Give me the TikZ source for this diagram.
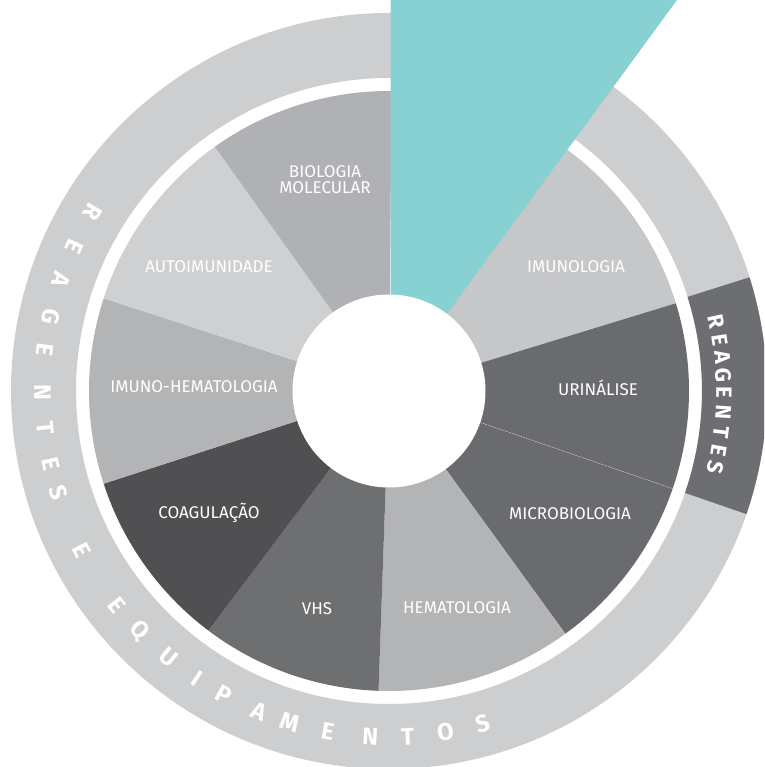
\documentclass[tikz,border=0pt]{standalone}
\usepackage{fontspec}
\setmainfont{Fira Sans}
\usetikzlibrary{positioning}

\definecolor{ringgray}{HTML}{CDCED0}
\definecolor{reagdark}{HTML}{6D6E71}
\definecolor{tealslice}{HTML}{88D1D3}
\definecolor{imunogray}{HTML}{C6C7C9}
\definecolor{darkslice}{HTML}{6A6B6F}
\definecolor{midslice}{HTML}{B3B4B6}
\definecolor{vhsgray}{HTML}{6E6F71}
\definecolor{coaggray}{HTML}{505052}
\definecolor{palegray}{HTML}{CFD0D2}
\definecolor{biogray}{HTML}{B0B1B4}

\begin{document}
\begin{tikzpicture}[x=1pt,y=1pt]

        % Setup the styles for the labels and the ring letters
        \tikzset{label style/.style={text=white,
                                     inner sep=0pt,
                                     align=center,
                                     text height=12pt,
                                     text depth=0pt,
                                     font=\fontsize{17}{15}\selectfont},
                 ring letter/.style={text=white,
                                     inner sep=0pt,
                                     font=\fontsize{24}{24}\selectfont\bfseries},
                 side letter/.style={ring letter,
                                     font=\fontsize{22}{22}\selectfont\bfseries}}

        \useasboundingbox (-389,-376) rectangle (375,391);
        \clip (-389,-376) rectangle (375,391);

        % Draw the outer ring
        \fill[ringgray, even odd rule] (0,0) circle[radius=378pt] (0,0) circle[radius=313pt];
        \fill[reagdark] (-19:313) arc[start angle=-19, end angle=17.5, radius=313pt]
            -- (17.5:378) arc[start angle=17.5, end angle=-19, radius=378pt] -- cycle;

        % Draw the slices
        \foreach \s/\e/\c in {54/17/imunogray, 17/-19/darkslice, -19/-54/darkslice,
                              -54/-92/midslice, -92/-127/vhsgray, -127/-162/coaggray,
                              198/162/midslice, 162/125.5/palegray, 125.5/89.5/biogray}
            \fill[\c] (0,0) -- (\s:300) arc[start angle=\s, end angle=\e, radius=300pt] -- cycle;
        \draw[white!75!darkslice, line width=0.4pt, dashed, dash pattern=on 1.5pt off 1pt]
            (-19:97) -- (-19:300);

        % Draw the highlighted slice
        \fill[tealslice] (1.5,0) -- (1.5,400) -- (294.6,400) -- cycle;

        % Draw the hub
        \fill[white] (0,0) circle[radius=96.5pt];

        % Label the slices
        \node[label style] (bio)      at (-64,219)  {BIOLOGIA};
        \node[label style, below=3pt of bio] (molec) {MOLECULAR};
        \node[label style] (autoimun) at (-180,124) {AUTOIMUNIDADE};
        \node[label style] (imunohem) at (-195,4)   {IMUNO-HEMATOLOGIA};
        \node[label style] (coag)     at (-180,-121) {COAGULAÇÃO};
        \node[label style] (vhs)      at (-72,-217) {VHS};
        \node[label style] (hemato)   at (68,-216)  {HEMATOLOGIA};
        \node[label style] (micro)    at (181,-122) {MICROBIOLOGIA};
        \node[label style] (urin)     at (209,1)    {URINÁLISE};
        \node[label style] (imunol)   at (187,124)  {IMUNOLOGIA};

        % Letters round the ring
        \foreach \a/\l [count=\i] in {148.9/R, 155.4/E, 161.3/A, 167.7/G, 173.2/E,
                                      180.3/N, 186.2/T, 192.1/E, 197.1/S, 207.5/E,
                                      218.2/E, 223.8/Q, 230.4/U, 236.3/I, 241.5/P,
                                      248/A, 253.3/M, 259.8/E, 266.9/N, 273.1/T,
                                      279.4/O, 285.8/S}
            \node[ring letter, rotate=\a+90] (ring\i) at (\a:346) {\l};

        \foreach \a/\l [count=\i] in {12/R, 8.7/E, 5.8/A, 2.75/G, -0.3/E,
                                      -3.6/N, -7/T, -10.3/E, -13.2/S}
            \node[side letter, rotate=\a-90] (reag\i) at (\a:335) {\l};

\end{tikzpicture}
\end{document}
